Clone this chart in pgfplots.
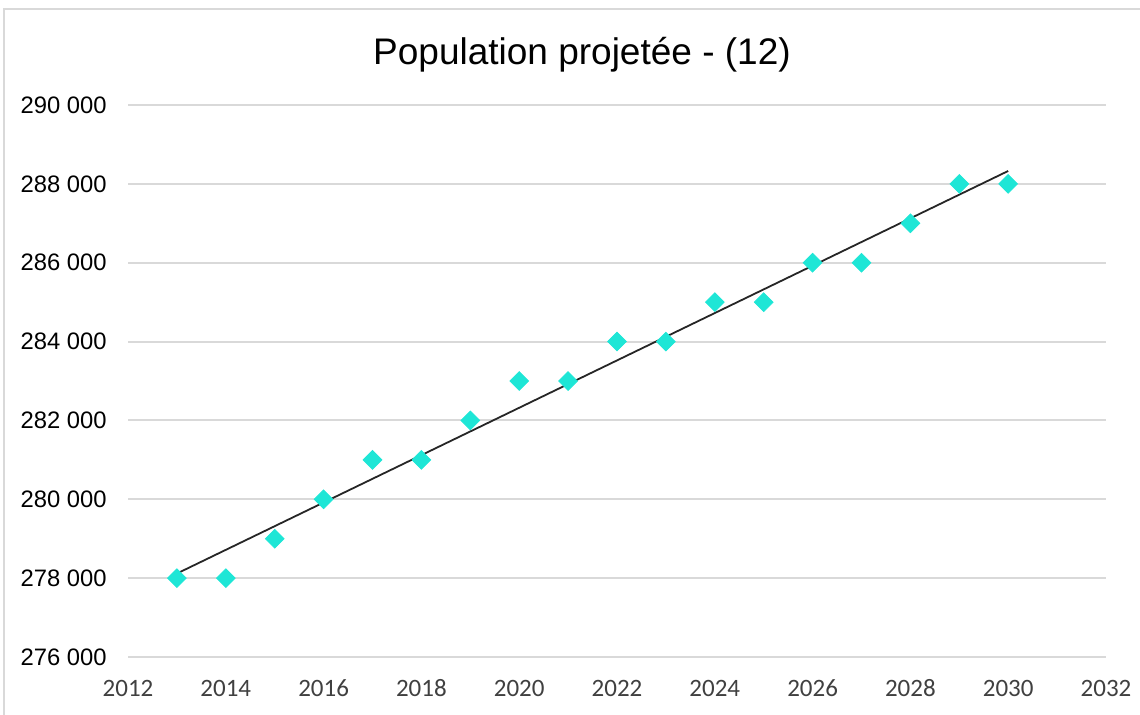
\documentclass[border=0pt]{standalone}
\usepackage{pgfplots}
\usepackage{pgfplotstable}
\pgfplotsset{compat=1.18}
\usepackage{fontspec}
\setmainfont{Liberation Sans}
\newfontfamily\carlito{Carlito}
\definecolor{pointcol}{RGB}{30,230,214}
\definecolor{gridcol}{RGB}{217,217,217}
\definecolor{xlab}{RGB}{64,64,64}
\definecolor{trend}{RGB}{38,38,38}

\pgfplotstableread{
annee pop
2013 278000
2014 278000
2015 279000
2016 280000
2017 281000
2018 281000
2019 282000
2020 283000
2021 283000
2022 284000
2023 284000
2024 285000
2025 285000
2026 286000
2027 286000
2028 287000
2029 288000
2030 288000
}\pop

% droite de tendance (moindres carres, calculee a la main)
\pgfplotstableread{
annee pop
2013 278117
2030 288327
}\tendance

\begin{document}
\begin{tikzpicture}
% 1 px = 0.5 pt, origine = coin bas gauche de l'axe
\useasboundingbox (-64pt,-28.5pt) rectangle (506pt,328.5pt);
\draw[gridcol, line width=0.8pt] (-62pt,-40pt) -- (-62pt,324pt) -- (520pt,324pt);
\begin{axis}[
    at={(0,0)}, anchor=south west,
    scale only axis, width=489pt, height=276pt,
    xmin=2012, xmax=2032, ymin=276000, ymax=290000,
    xtick={2012,2014,...,2032},
    xticklabels={2012,2014,2016,2018,2020,2022,2024,2026,2028,2030,2032},
    ytick={276000,278000,...,290000},
    yticklabels={276 000,278 000,280 000,282 000,284 000,286 000,288 000,290 000},
    scaled y ticks=false, scaled x ticks=false,
    axis line style={draw=none},
    major tick length=0pt,
    ymajorgrids,
    grid style={draw=gridcol, line width=1pt},
    yticklabel style={font=\fontsize{11.9}{14}\selectfont, text=black, inner sep=0pt, anchor=east, xshift=-10.5pt},
    xticklabel style={font=\carlito\fontsize{12.5}{14}\selectfont, text=xlab, inner sep=0pt, anchor=north, text height=7.9pt, text depth=0pt, yshift=-11.5pt},
    clip=false,
]
\addplot[only marks, mark=square*, mark size=3.3pt,
    mark options={rotate=45, fill=pointcol, draw=pointcol}] table[x=annee, y=pop] {\pop};
\addplot[no marks, draw=trend, line width=0.9pt] table[x=annee, y=pop] {\tendance};
\end{axis}
\node[font=\fontsize{18.5}{22}\selectfont, text=black] at (227pt,301pt) {Population projetée - (12)};
\end{tikzpicture}
\end{document}
